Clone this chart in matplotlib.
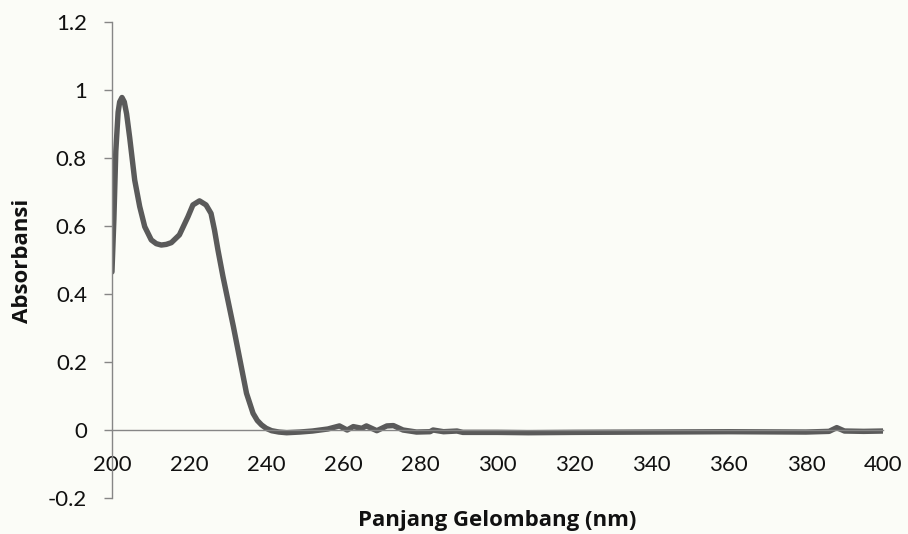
import numpy as np
import matplotlib.pyplot as plt

plt.rcParams['font.family'] = ['Lato', 'DejaVu Sans']

# UV-Vis spectrum: wavelength (nm) and absorbance
wavelength = [200.0, 200.5, 201.0, 201.6, 202.0, 202.6, 203.2, 203.8, 204.6, 205.9,
              207.2, 208.5, 210.2, 211.5, 212.8, 214.1, 215.4, 217.5, 219.7, 221.0,
              222.7, 224.4, 225.7, 226.6, 227.5, 228.8, 229.7, 231.5, 233.2, 234.9,
              236.6, 237.7, 238.8, 240.0, 241.4, 243.3, 245.3, 248.7, 252.0, 256.0,
              259.0, 261.0, 262.6, 264.8, 266.0, 268.7, 271.3, 273.0, 275.5, 279.0,
              282.5, 283.3, 286.0, 289.5, 291.0, 300.0, 308.0, 320.0, 340.0, 360.0,
              380.0, 386.0, 388.0, 390.0, 395.0, 400.0]
absorbance = [0.465, 0.62, 0.82, 0.935, 0.965, 0.978, 0.965, 0.93, 0.86, 0.735,
              0.657, 0.598, 0.559, 0.548, 0.544, 0.546, 0.551, 0.574, 0.627, 0.662,
              0.674, 0.662, 0.637, 0.588, 0.529, 0.451, 0.402, 0.304, 0.206, 0.108,
              0.049, 0.028, 0.015, 0.005, -0.002, -0.006, -0.008, -0.006, -0.003, 0.003,
              0.012, 0.0, 0.01, 0.005, 0.012, -0.002, 0.012, 0.013, 0.0, -0.006,
              -0.005, 0.0, -0.005, -0.003, -0.007, -0.007, -0.008, -0.007, -0.006, -0.005,
              -0.006, -0.004, 0.007, -0.003, -0.004, -0.003]

x_ticks = [200, 220, 240, 260, 280, 300, 320, 340, 360, 380, 400]
y_ticks = [-0.2, 0, 0.2, 0.4, 0.6, 0.8, 1, 1.2]

bg = '#fbfcf7'
axis_grey = '#868686'

fig = plt.figure(figsize=(9.08, 5.34), dpi=100, facecolor=bg)
ax = fig.add_axes([0.1233, 0.0674, 0.8492, 0.8914], facecolor=bg)

ax.plot(wavelength, absorbance, color='#5a5a5a', lw=3.9,
        solid_joinstyle='round', solid_capstyle='round')

ax.set_xlim(200, 400)
ax.set_ylim(-0.2, 1.2)

# spines: y axis on the left, x axis drawn through zero
for side in ['top', 'right']:
    ax.spines[side].set_visible(False)
ax.spines['bottom'].set_position(('data', 0))
ax.spines['bottom'].set_color(axis_grey)
ax.spines['left'].set_color(axis_grey)
ax.spines['bottom'].set_linewidth(1.0)
ax.spines['left'].set_linewidth(1.0)

ax.set_xticks(x_ticks)
ax.set_xticklabels([str(t) for t in x_ticks])
ax.set_yticks(y_ticks)
ax.set_yticklabels(['-0.2', '0', '0.2', '0.4', '0.6', '0.8', '1', '1.2'])

ax.tick_params(axis='x', length=0, pad=18, labelsize=16, labelcolor='#111111')
ax.tick_params(axis='y', direction='out', length=6, width=1.0, color=axis_grey,
               pad=12, labelsize=16, labelcolor='#111111')

label_font = dict(family=['Open Sans', 'DejaVu Sans'], fontsize=16,
                  fontweight='bold', color='#111111')
fig.text(0.5474, 0.026, 'Panjang Gelombang (nm)', ha='center', va='center',
         **label_font)
fig.text(0.0253, 0.5112, 'Absorbansi', ha='center', va='center', rotation=90,
         **label_font)

fig.savefig('out.png', dpi=100, facecolor=bg)
